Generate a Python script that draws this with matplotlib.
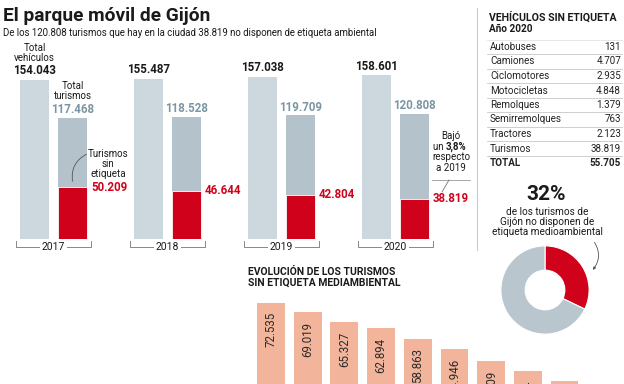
import matplotlib
matplotlib.use('Agg')
import matplotlib.pyplot as plt
from matplotlib.lines import Line2D

plt.rcParams['font.family'] = ['Roboto', 'DejaVu Sans']

# datos
years = ['2017', '2018', '2019', '2020']
total_vehiculos = [154043, 155487, 157038, 158601]
total_turismos = [117468, 118528, 119709, 120808]
sin_etiqueta = [50209, 46644, 42804, 38819]

tabla_tipos = ['Autobuses', 'Camiones', 'Ciclomotores', 'Motocicletas', 'Remolques',
               'Semirremolques', 'Tractores', 'Turismos']
tabla_valores = [131, 4707, 2935, 4848, 1379, 763, 2123, 38819]

evolucion = [72535, 69019, 65327, 62894, 58863, 54946, 50209, 46644, 42804, 38819]

RED = '#d0021b'
GRIS_CLARO = '#cdd8de'
GRIS_TUR = '#b4c3cb'
GRIS_TXT = '#7b95a3'
SALMON = '#f2b49a'

W, H = 624, 384


def fmt(v):
    return f"{v:,}".replace(",", ".")


def fx(px):
    return px / W


def fy(py):
    return 1 - py / H


fig = plt.figure(figsize=(6.24, 3.84), dpi=100)

# titulo
fig.text(fx(3), fy(16), 'El parque móvil de Gijón', fontsize=13.8, fontweight='bold',
         color='#1a1a1a', va='center', ha='left')
fig.text(fx(3), fy(33), 'De los 120.808 turismos que hay en la ciudad 38.819 no disponen de etiqueta ambiental',
         fontsize=6.9, color='#1a1a1a', va='center', ha='left')

# grafico principal
ax = fig.add_axes([0, fy(239), fx(478), 199 / H])
ax.set_xlim(-0.469, 3.724)
ax.set_ylim(0, 192790)
ax.axis('off')

bw = 0.254
off = 0.167
for i in range(len(years)):
    ax.bar(i - off, total_vehiculos[i], width=bw, color=GRIS_CLARO)
    ax.bar(i + off, total_turismos[i], width=bw, color=GRIS_TUR)
    ax.bar(i + off, sin_etiqueta[i], width=bw, color=RED, edgecolor='white', linewidth=0.6)

    ax.annotate(fmt(total_vehiculos[i]), (i - off, total_vehiculos[i]), xytext=(0, 6.5),
                textcoords='offset points', ha='center', va='center', fontsize=8.3,
                fontweight='bold', color='#1a1a1a')
    ax.annotate(fmt(total_turismos[i]), (i + off, total_turismos[i]), xytext=(0, 6),
                textcoords='offset points', ha='center', va='center', fontsize=8.3,
                fontweight='bold', color=GRIS_TXT)
    ax.annotate(fmt(sin_etiqueta[i]), (i + off + bw / 2, sin_etiqueta[i]), xytext=(3, 0),
                textcoords='offset points', ha='left', va='center', fontsize=8.3,
                fontweight='bold', color=RED)

    # corchete del año
    y0 = -8 * 968.8
    y1 = -2 * 968.8
    ax.plot([i - 0.333, i - 0.333, i + 0.333, i + 0.333], [y1, y0, y0, y1],
            color='#888888', lw=0.7, clip_on=False)
    ax.text(i, y0, years[i], ha='center', va='center', fontsize=7.5, color='#1a1a1a',
            bbox=dict(boxstyle='square,pad=0.15', fc='white', ec='none'))

ax.annotate('Total\nvehículos', (0 - off, total_vehiculos[0]), xytext=(0, 19.5),
            textcoords='offset points', ha='center', va='center', fontsize=7,
            color='#1a1a1a', linespacing=1.0)
ax.annotate('Total\nturismos', (0 + off, total_turismos[0]), xytext=(0, 19.5),
            textcoords='offset points', ha='center', va='center', fontsize=7,
            color='#1a1a1a', linespacing=1.0)

fig.text(fx(108), fy(164), 'Turismos\nsin\netiqueta', ha='center', va='center', fontsize=7,
         color='#1a1a1a', linespacing=1.05)
fig.add_artist(matplotlib.patches.FancyArrowPatch((fx(89), fy(153)), (fx(73), fy(184)),
                                                  transform=fig.transFigure,
                                                  connectionstyle='arc3,rad=0.4',
                                                  arrowstyle='-', color='#555555', lw=0.6))

fig.text(fx(451), fy(136), 'Bajó', ha='center', va='center', fontsize=7, color='#1a1a1a')
fig.text(fx(446), fy(147), 'un ', ha='right', va='center', fontsize=7, color='#1a1a1a')
fig.text(fx(446), fy(147), '3,8%', ha='left', va='center', fontsize=7, fontweight='bold',
         color='#1a1a1a')
fig.text(fx(451), fy(157.5), 'respecto', ha='center', va='center', fontsize=7, color='#1a1a1a')
fig.text(fx(451), fy(168), 'a 2019', ha='center', va='center', fontsize=7, color='#1a1a1a')
fig.add_artist(Line2D([fx(432), fx(470)], [fy(180), fy(180)], transform=fig.transFigure,
                      color='#999999', lw=0.6))
fig.add_artist(Line2D([fx(449), fx(442)], [fy(180), fy(192)], transform=fig.transFigure,
                      color='#777777', lw=0.6))

# separador
fig.add_artist(Line2D([fx(477), fx(477)], [fy(8), fy(250)], transform=fig.transFigure,
                      color='#cccccc', lw=0.8))

# tabla
fig.text(fx(489), fy(17), 'VEHÍCULOS SIN ETIQUETA', fontsize=7.6, fontweight='bold',
         color='#1a1a1a', va='center')
fig.text(fx(489), fy(29), 'Año 2020', fontsize=7.2, fontweight='bold', color='#1a1a1a',
         va='center')
row_y = [47, 61.5, 76, 90.5, 105, 119.5, 134, 148.5]
for k in range(len(tabla_tipos)):
    fig.text(fx(490), fy(row_y[k]), tabla_tipos[k], fontsize=7.1, color='#222222', va='center')
    fig.text(fx(621), fy(row_y[k]), fmt(tabla_valores[k]), fontsize=7.1, color='#222222',
             va='center', ha='right')
    fig.add_artist(Line2D([fx(487), fx(622)], [fy(row_y[k] + 7.2)] * 2,
                          transform=fig.transFigure, color='#bbbbbb', lw=0.5))
fig.add_artist(Line2D([fx(487), fx(622)], [fy(40)] * 2, transform=fig.transFigure,
                      color='#dddddd', lw=0.5))
fig.text(fx(490), fy(163.5), 'TOTAL', fontsize=7.1, fontweight='bold', color='#222222',
         va='center')
fig.text(fx(621), fy(163.5), fmt(sum(tabla_valores)), fontsize=7.1, fontweight='bold',
         color='#222222', va='center', ha='right')

# donut
pct = round(sin_etiqueta[-1] / total_turismos[-1] * 100)
fig.text(fx(546), fy(194), f'{pct}%', fontsize=15, fontweight='bold', color='#1a1a1a',
         ha='center', va='center')
fig.text(fx(547), fy(222), 'de los turismos de\nGijón no disponen de\netiqueta medioambiental',
         fontsize=7.2, color='#1a1a1a', ha='center', va='center', linespacing=1.0)
ax3 = fig.add_axes([fx(500), fy(335), 90 / W, 90 / H])
ax3.pie([sin_etiqueta[-1], total_turismos[-1] - sin_etiqueta[-1]], colors=[RED, '#b9c6cd'],
        startangle=90, counterclock=False, radius=1,
        wedgeprops=dict(width=0.55, edgecolor='white', linewidth=0.8))
ax3.set_xlim(-1.02, 1.02)
ax3.set_ylim(-1.02, 1.02)
fig.add_artist(matplotlib.patches.FancyArrowPatch((fx(593), fy(240)), (fx(591), fy(272)),
                                                  transform=fig.transFigure,
                                                  connectionstyle='arc3,rad=-0.4',
                                                  arrowstyle='-|>', mutation_scale=4,
                                                  color='#555555', lw=0.6))

# evolucion
fig.text(fx(248), fy(277), 'EVOLUCIÓN DE LOS TURISMOS\nSIN ETIQUETA MEDIAMBIENTAL',
         fontsize=7.5, fontweight='bold', color='#1a1a1a', ha='left', va='center',
         linespacing=1.05)
ax2 = fig.add_axes([fx(240), fy(494), 384 / W, 204 / H])
ax2.set_xlim(-0.845, 9.62)
ax2.set_ylim(0, 77270)
ax2.axis('off')
xs = list(range(len(evolucion)))
ax2.bar(xs, evolucion, width=0.76, color=SALMON)
for i, v in enumerate(evolucion):
    ax2.annotate(fmt(v), (i, v), xytext=(0, -7), textcoords='offset points', rotation=90,
                 ha='center', va='top', fontsize=8.3, color='#2a2a2a')

fig.savefig('out.png', dpi=100)
